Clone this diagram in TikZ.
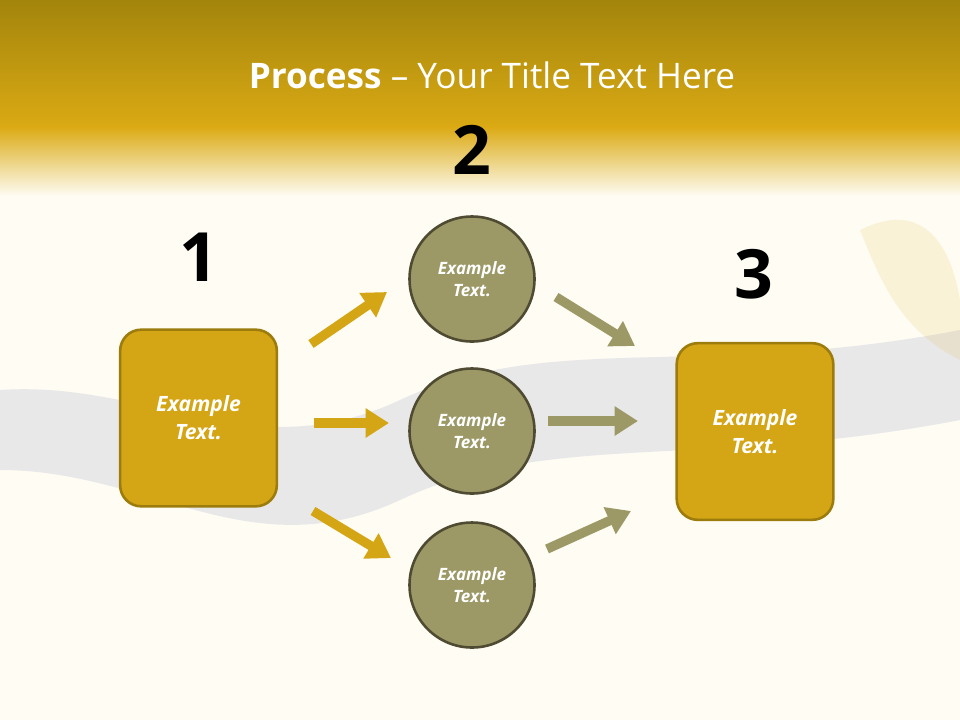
\documentclass[tikz,border=0pt]{standalone}
\usepackage{fontspec}
\setmainfont{Open Sans}
\usetikzlibrary{arrows.meta}
\definecolor{cream}{HTML}{FEFCF3}
\definecolor{goldA}{HTML}{A3850C}
\definecolor{goldB}{HTML}{DBAA14}
\definecolor{boxfill}{HTML}{D4A514}
\definecolor{boxline}{HTML}{9C7C0C}
\definecolor{circfill}{HTML}{9C9966}
\definecolor{circline}{HTML}{4F4A32}
\definecolor{arrgold}{HTML}{D4A514}
\definecolor{arrolive}{HTML}{9C9966}
\begin{document}
\begin{tikzpicture}[x=0.03cm,y=-0.03cm,
  sqbox/.style={draw=boxline,line width=2.2pt,fill=boxfill,rounded corners=18pt,minimum width=4.7cm,minimum height=5.3cm,text=white,font=\bfseries\itshape\fontsize{18}{24}\selectfont,align=center},
  circ/.style={circle,draw=circline,line width=2.2pt,fill=circfill,minimum size=3.75cm,text=white,font=\bfseries\itshape\fontsize{14.5}{19}\selectfont,align=center},
  num/.style={font=\bfseries\fontsize{58}{60}\selectfont,text=black},
  fatarrow/.style={line width=8pt,-{Triangle[length=20pt,width=24pt]}}]
\useasboundingbox (0,0) rectangle (960,720);
\fill[cream] (0,0) rectangle (960,720);
\shade[top color=goldA,bottom color=goldB] (0,0) rectangle (960,128);
\shade[top color=goldB,bottom color=cream] (0,127) rectangle (960,196);
% faint background swoosh
\fill[blue!30!gray,opacity=0.12] (0,390) .. controls (150,380) and (250,470) .. (400,400) .. controls (550,330) and (700,380) .. (960,330) -- (960,420) .. controls (700,470) and (550,430) .. (400,500) .. controls (250,570) and (150,470) .. (0,470) -- cycle;
\fill[goldB,opacity=0.12] (860,230) .. controls (920,200) and (950,240) .. (960,300) -- (960,360) .. controls (900,330) and (880,280) .. (860,230) -- cycle;
\node[text=white,font=\fontsize{30}{34}\selectfont] (title) at (492,75) {\textbf{Process} -- Your Title Text Here};
\node[num] (n1) at (199,257) {1};
\node[num] (n2) at (472,150) {2};
\node[num] (n3) at (754,274) {3};
\node[sqbox] (b1) at (198.5,418) {Example\\Text.};
\node[sqbox] (b3) at (755,431.5) {Example\\Text.};
\node[circ] (c1) at (472,279) {Example\\Text.};
\node[circ] (c2) at (472,431) {Example\\Text.};
\node[circ] (c3) at (472,585) {Example\\Text.};
\coordinate (a1s) at (311,344); \coordinate (a1e) at (387,292);
\coordinate (a2s) at (314,423); \coordinate (a2e) at (389,423);
\coordinate (a3s) at (313,511); \coordinate (a3e) at (391,558);
\coordinate (a4s) at (556,297); \coordinate (a4e) at (635,346);
\coordinate (a5s) at (548,421); \coordinate (a5e) at (638,421);
\coordinate (a6s) at (547,549); \coordinate (a6e) at (631,511);
\draw[fatarrow,arrgold] (a1s) -- (a1e);
\draw[fatarrow,arrgold] (a2s) -- (a2e);
\draw[fatarrow,arrgold] (a3s) -- (a3e);
\draw[fatarrow,arrolive] (a4s) -- (a4e);
\draw[fatarrow,arrolive] (a5s) -- (a5e);
\draw[fatarrow,arrolive] (a6s) -- (a6e);
\end{tikzpicture}
\end{document}
